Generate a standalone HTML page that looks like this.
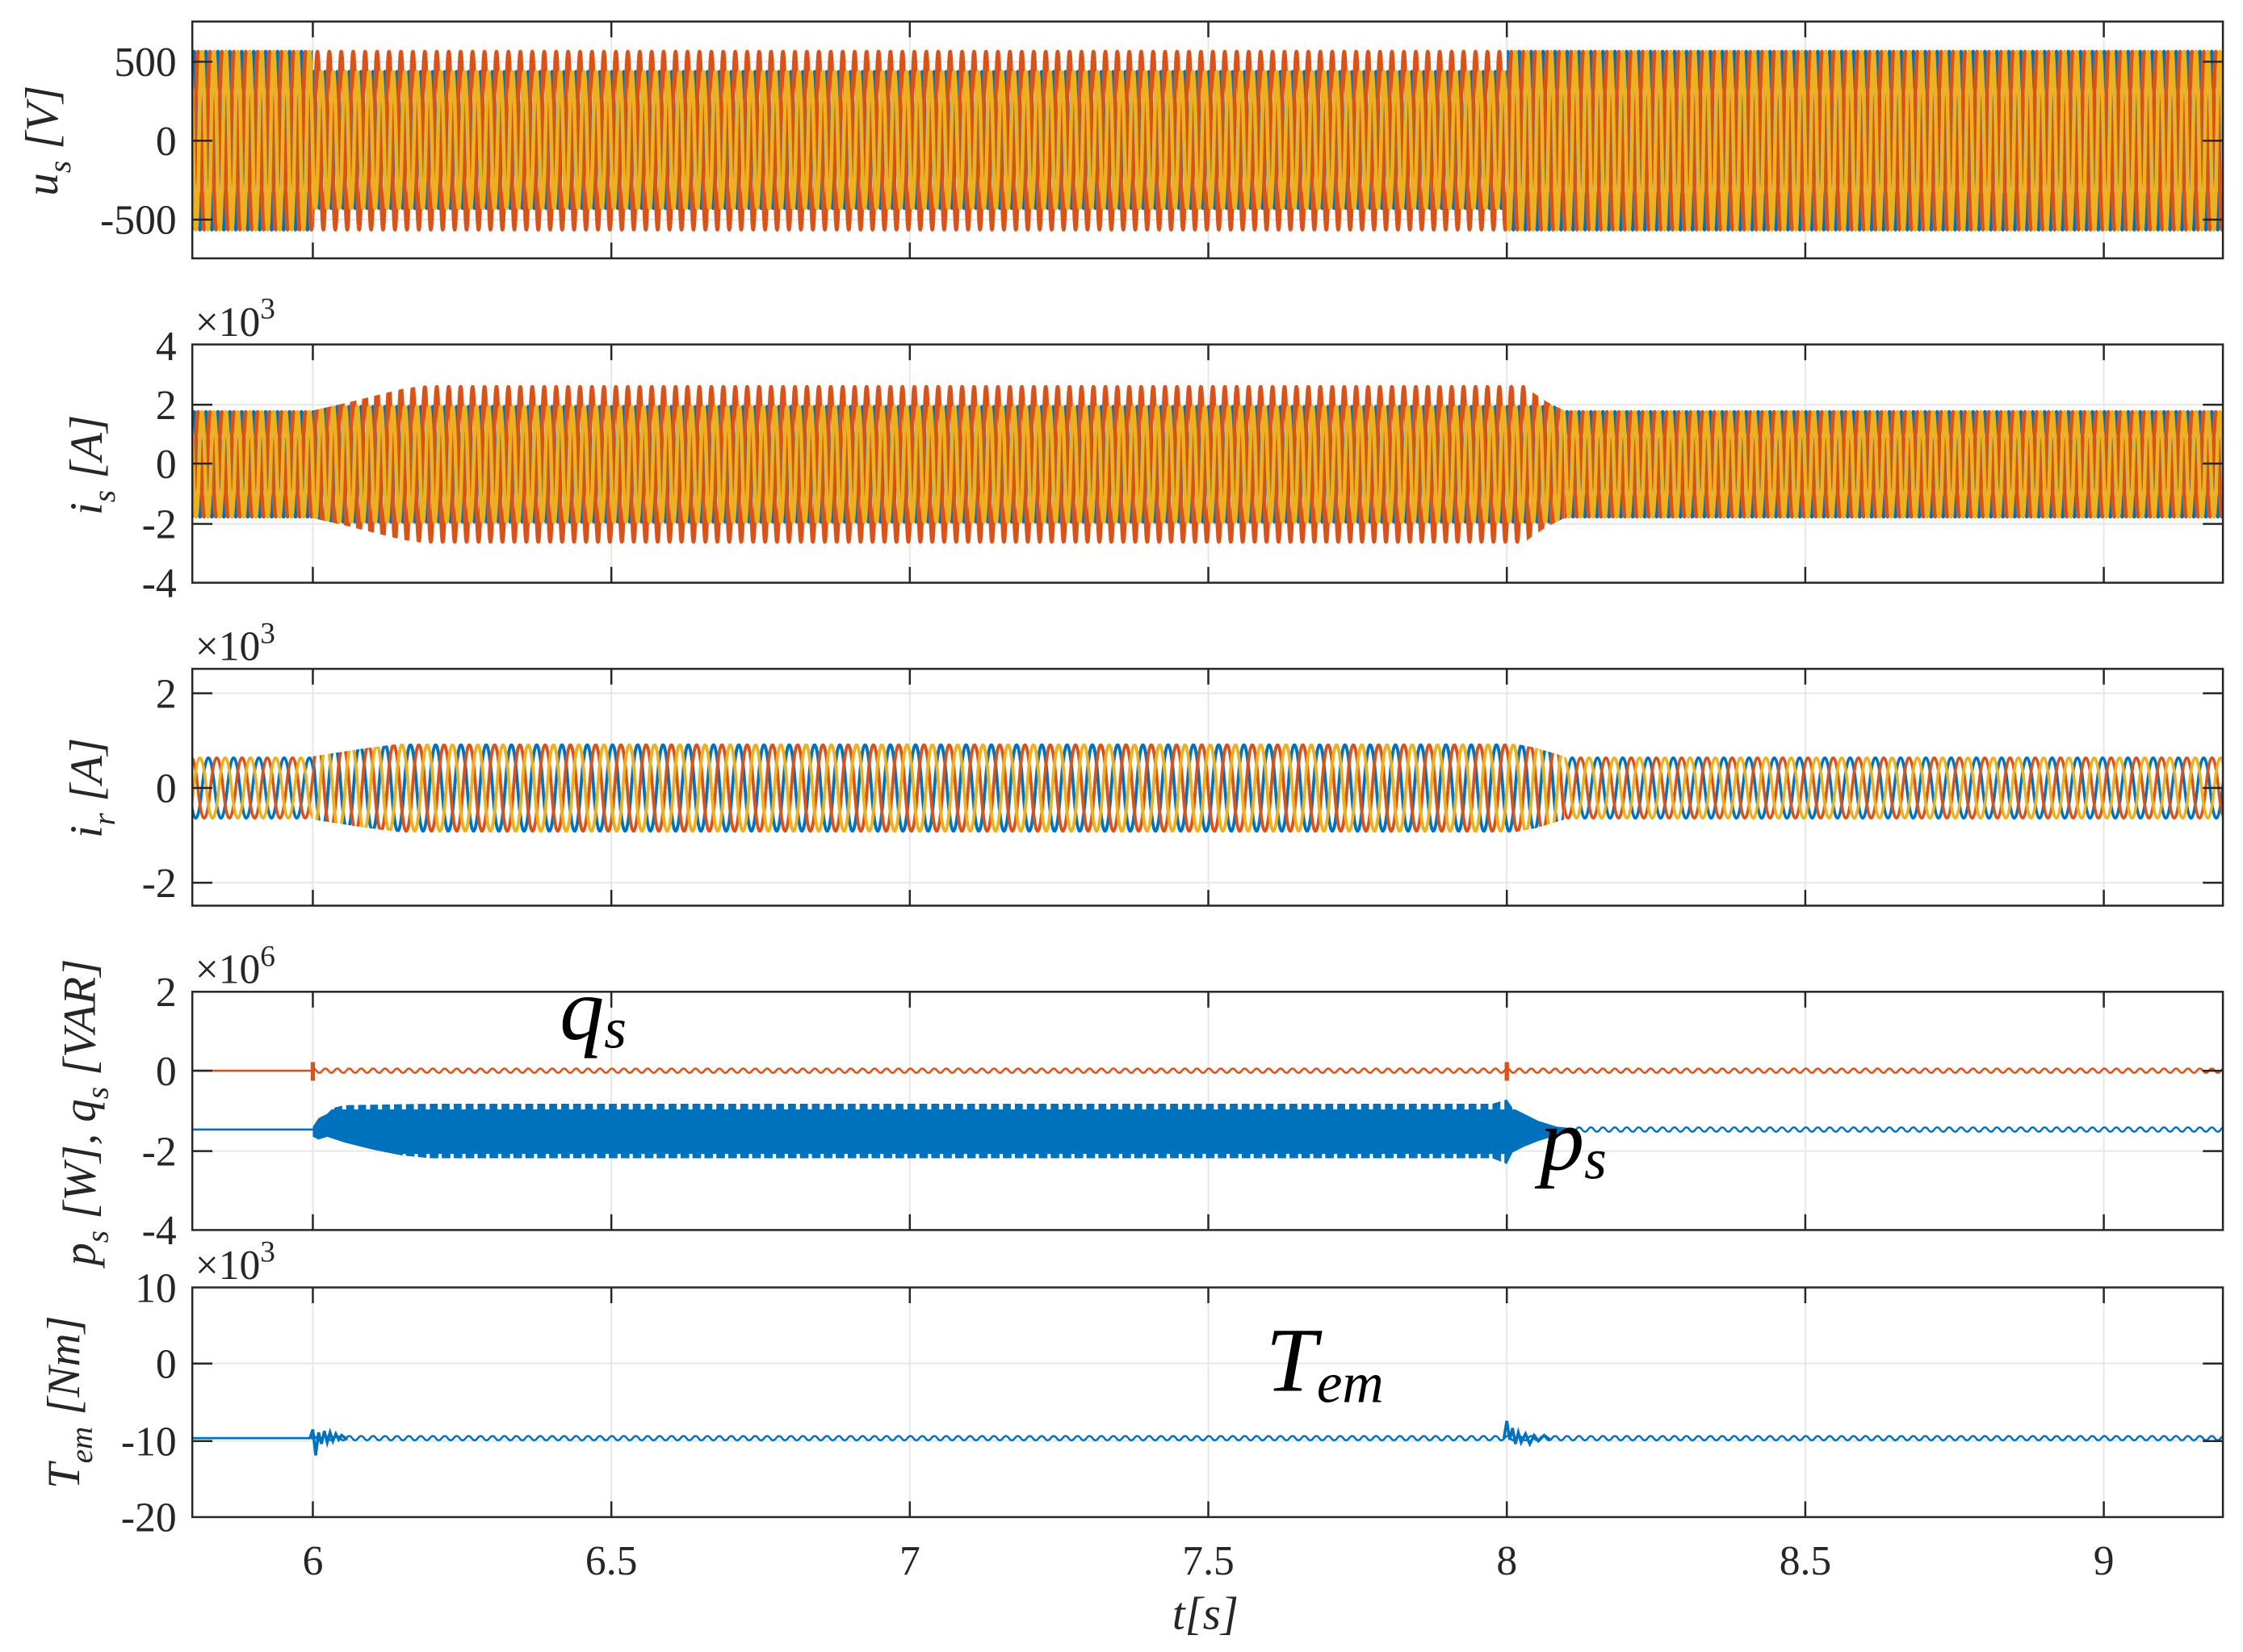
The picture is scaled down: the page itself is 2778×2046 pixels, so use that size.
<!DOCTYPE html>
<html><head><meta charset="utf-8"><style>
html,body{margin:0;padding:0;background:#fff}
svg{display:block}
.t{font-family:"Liberation Serif",serif;font-size:29px;fill:#262626}
.l{font-family:"Liberation Serif",serif;font-style:italic;font-size:32px;fill:#262626}
.g{stroke:#e8e8e8;stroke-width:1.2}
.ax{fill:none;stroke:#262626;stroke-width:1.4}
.tk{stroke:#262626;stroke-width:1.4}
</style></head><body>
<svg width="2778" height="2046" viewBox="0 0 1563 1151" preserveAspectRatio="none" xmlns="http://www.w3.org/2000/svg">
<defs>
<pattern id="p1f" patternUnits="userSpaceOnUse" x="0" y="0" width="8.32" height="1151">
<g fill="none" stroke-width="2.6">
<path stroke="#0072BD" d="M-8.32,98 Q-6.24,-26 -4.16,98 T0,98 T4.16,98 T8.32,98 T12.48,98 T16.64,98"/>
<path stroke="#D95319" d="M-5.55,98 Q-3.47,-26 -1.39,98 T2.77,98 T6.93,98 T11.09,98 T15.25,98 T19.41,98"/>
<path stroke="#EDB120" d="M-2.77,98 Q-0.69,-26 1.39,98 T5.55,98 T9.71,98 T13.87,98 T18.03,98 T22.19,98"/>
</g></pattern>
<pattern id="p1m" patternUnits="userSpaceOnUse" x="0" y="0" width="8.32" height="1151">
<g fill="none" stroke-width="2.6">
<path stroke="#0072BD" d="M-8.32,97.5 Q-6.24,2.5 -4.16,97.5 T0,97.5 T4.16,97.5 T8.32,97.5 T12.48,97.5 T16.64,97.5"/>
<path stroke="#D95319" d="M-5.55,98 Q-3.47,-26 -1.39,98 T2.77,98 T6.93,98 T11.09,98 T15.25,98 T19.41,98"/>
<path stroke="#EDB120" d="M-2.77,97.5 Q-0.69,2.5 1.39,97.5 T5.55,97.5 T9.71,97.5 T13.87,97.5 T18.03,97.5 T22.19,97.5"/>
</g></pattern>
<pattern id="p2a" patternUnits="userSpaceOnUse" x="0" y="0" width="8.32" height="1151">
<g fill="none" stroke-width="2.6">
<path stroke="#0072BD" d="M-8.32,323.5 Q-6.24,250.5 -4.16,323.5 T0,323.5 T4.16,323.5 T8.32,323.5 T12.48,323.5 T16.64,323.5"/>
<path stroke="#D95319" d="M-5.55,323.5 Q-3.47,250.5 -1.39,323.5 T2.77,323.5 T6.93,323.5 T11.09,323.5 T15.25,323.5 T19.41,323.5"/>
<path stroke="#EDB120" d="M-2.77,323.5 Q-0.69,250.5 1.39,323.5 T5.55,323.5 T9.71,323.5 T13.87,323.5 T18.03,323.5 T22.19,323.5"/>
</g></pattern>
<pattern id="p2m" patternUnits="userSpaceOnUse" x="0" y="0" width="8.32" height="1151">
<g fill="none" stroke-width="2.6">
<path stroke="#0072BD" d="M-8.32,323.5 Q-6.24,243.5 -4.16,323.5 T0,323.5 T4.16,323.5 T8.32,323.5 T12.48,323.5 T16.64,323.5"/>
<path stroke="#D95319" d="M-5.55,323.5 Q-3.47,215.5 -1.39,323.5 T2.77,323.5 T6.93,323.5 T11.09,323.5 T15.25,323.5 T19.41,323.5"/>
<path stroke="#EDB120" d="M-2.77,323.5 Q-0.69,243.5 1.39,323.5 T5.55,323.5 T9.71,323.5 T13.87,323.5 T18.03,323.5 T22.19,323.5"/>
</g></pattern>
<pattern id="p3a" patternUnits="userSpaceOnUse" x="0" y="0" width="17.6" height="1151">
<g fill="none" stroke-width="2">
<path stroke="#0072BD" d="M-17.6,549 Q-13.2,507 -8.8,549 T0,549 T8.8,549 T17.6,549 T26.4,549"/>
<path stroke="#D95319" d="M-11.73,549 Q-7.33,507 -2.93,549 T5.87,549 T14.67,549 T23.47,549 T32.27,549"/>
<path stroke="#EDB120" d="M-5.87,549 Q-1.47,507 2.93,549 T11.73,549 T20.53,549 T29.33,549 T38.13,549"/>
</g></pattern>
<pattern id="p3m" patternUnits="userSpaceOnUse" x="0" y="0" width="17.6" height="1151">
<g fill="none" stroke-width="2.2">
<path stroke="#0072BD" d="M-17.6,549 Q-13.2,489 -8.8,549 T0,549 T8.8,549 T17.6,549 T26.4,549"/>
<path stroke="#D95319" d="M-11.73,549 Q-7.33,489 -2.93,549 T5.87,549 T14.67,549 T23.47,549 T32.27,549"/>
<path stroke="#EDB120" d="M-5.87,549 Q-1.47,489 2.93,549 T11.73,549 T20.53,549 T29.33,549 T38.13,549"/>
</g></pattern>
<pattern id="rq" patternUnits="userSpaceOnUse" x="0" y="0" width="8.32" height="1151">
<path fill="none" stroke="#D95319" stroke-width="1.4" d="M-8.32,746 Q-6.24,743 -4.16,746 T0,746 T4.16,746 T8.32,746 T12.48,746"/></pattern>
<pattern id="rp" patternUnits="userSpaceOnUse" x="0" y="0" width="8.32" height="1151">
<path fill="none" stroke="#0072BD" stroke-width="1.4" d="M-8.32,787 Q-6.24,784 -4.16,787 T0,787 T4.16,787 T8.32,787 T12.48,787"/></pattern>
<pattern id="rt" patternUnits="userSpaceOnUse" x="0" y="0" width="8.32" height="1151">
<path fill="none" stroke="#0072BD" stroke-width="1.4" d="M-8.32,1002 Q-6.24,999 -4.16,1002 T0,1002 T4.16,1002 T8.32,1002 T12.48,1002"/></pattern>
<pattern id="pst" patternUnits="userSpaceOnUse" x="0" y="0" width="8.32" height="1151">
<rect x="0" y="0" width="8.32" height="1151" fill="#0072BD"/>
<rect x="5.5" y="760" width="2.8" height="13" fill="#fff"/>
<rect x="6" y="804" width="2.3" height="10" fill="#fff"/>
</pattern>
<clipPath id="c1"><rect x="134" y="15" width="1415" height="165"/></clipPath>
<clipPath id="c2"><rect x="134" y="240" width="1415" height="166"/></clipPath>
<clipPath id="c3"><rect x="134" y="466" width="1415" height="165"/></clipPath>
<clipPath id="env2"><polygon points="218,286 240,281 260,276 280,271 300,268 330,266 1048,266 1056,262 1066,272 1078,280 1090,286 1090,361 1078,367 1066,375 1056,385 1048,381 330,381 300,379 280,376 260,371 240,366 218,361"/></clipPath>
<clipPath id="env3"><polygon points="218,527 250,522 280,518 1050,517 1070,521 1090,527 1090,571 1070,577 1050,581 280,580 250,576 218,571"/></clipPath>
</defs>

<g class="g">
<path d="M218,15V180M426,15V180M634,15V180M842,15V180M1050,15V180M1258,15V180M1466,15V180M134,43H1549M134,98H1549M134,153H1549"/>
<path d="M218,240V406M426,240V406M634,240V406M842,240V406M1050,240V406M1258,240V406M1466,240V406M134,282H1549M134,323H1549M134,365H1549"/>
<path d="M218,466V631M426,466V631M634,466V631M842,466V631M1050,466V631M1258,466V631M1466,466V631M134,483H1549M134,549H1549M134,615H1549"/>
<path d="M218,691V857M426,691V857M634,691V857M842,691V857M1050,691V857M1258,691V857M1466,691V857M134,746H1549M134,802H1549"/>
<path d="M218,897V1057M426,897V1057M634,897V1057M842,897V1057M1050,897V1057M1258,897V1057M1466,897V1057M134,950H1549M134,1004H1549"/>
</g>

<g clip-path="url(#c1)">
<rect x="134" y="15" width="84" height="165" fill="url(#p1f)"/>
<rect x="218" y="15" width="832" height="165" fill="url(#p1m)"/>
<rect x="1050" y="15" width="499" height="165" fill="url(#p1f)"/>
</g>
<g clip-path="url(#c2)">
<rect x="134" y="240" width="84" height="166" fill="url(#p2a)"/>
<rect x="1090" y="240" width="459" height="166" fill="url(#p2a)"/>
<rect x="218" y="240" width="872" height="166" fill="url(#p2m)" clip-path="url(#env2)"/>
</g>
<g clip-path="url(#c3)">
<rect x="134" y="466" width="84" height="165" fill="url(#p3a)"/>
<rect x="1090" y="466" width="459" height="165" fill="url(#p3a)"/>
<rect x="218" y="466" width="872" height="165" fill="url(#p3m)" clip-path="url(#env3)"/>
</g>
<path d="M134,746H218" stroke="#D95319" stroke-width="1.5"/>
<rect x="218" y="740" width="1331" height="12" fill="url(#rq)"/>
<path d="M218,740V753M1050,740V753" stroke="#D95319" stroke-width="3"/>
<path d="M134,787H218" stroke="#0072BD" stroke-width="1.5"/>
<polygon fill="url(#pst)" points="218,785 222,779 228,776 232,772 240,770 300,769 1040,769 1050,766 1054,772 1062,776 1072,781 1085,785 1095,786 1095,789 1085,791 1072,795 1062,799 1054,803 1050,811 1040,807 300,807 280,805 260,801 240,796 228,792 222,794 218,792"/>
<rect x="1094" y="781" width="455" height="12" fill="url(#rp)"/>
<path d="M134,1002H218" stroke="#0072BD" stroke-width="1.5"/>
<rect x="218" y="996" width="1331" height="12" fill="url(#rt)"/>
<path fill="none" stroke="#0072BD" stroke-width="2" d="M216,1002 L218,996 L220,1014 L222,998 L224,1006 L226,997 L228,1005 L230,998 L232,1004 L234,999 L236,1003 L238,1000 L242,1003"/>
<path fill="none" stroke="#0072BD" stroke-width="2" d="M1048,1002 L1050,990 L1052,1003 L1054,995 L1056,1006 L1058,998 L1060,1005 L1063,999 L1066,1006 L1069,1000 L1072,1004 L1076,1000 L1080,1003"/>

<g class="ax">
<rect x="134" y="15" width="1415" height="165"/>
<rect x="134" y="240" width="1415" height="166"/>
<rect x="134" y="466" width="1415" height="165"/>
<rect x="134" y="691" width="1415" height="166"/>
<rect x="134" y="897" width="1415" height="160"/>
</g>
<g class="tk">
<path d="M218,15v11M426,15v11M634,15v11M842,15v11M1050,15v11M1258,15v11M1466,15v11M218,180v-11M426,180v-11M634,180v-11M842,180v-11M1050,180v-11M1258,180v-11M1466,180v-11"/>
<path d="M218,240v11M426,240v11M634,240v11M842,240v11M1050,240v11M1258,240v11M1466,240v11M218,406v-11M426,406v-11M634,406v-11M842,406v-11M1050,406v-11M1258,406v-11M1466,406v-11"/>
<path d="M218,466v11M426,466v11M634,466v11M842,466v11M1050,466v11M1258,466v11M1466,466v11M218,631v-11M426,631v-11M634,631v-11M842,631v-11M1050,631v-11M1258,631v-11M1466,631v-11"/>
<path d="M218,691v11M426,691v11M634,691v11M842,691v11M1050,691v11M1258,691v11M1466,691v11M218,857v-11M426,857v-11M634,857v-11M842,857v-11M1050,857v-11M1258,857v-11M1466,857v-11"/>
<path d="M218,897v11M426,897v11M634,897v11M842,897v11M1050,897v11M1258,897v11M1466,897v11M218,1057v-11M426,1057v-11M634,1057v-11M842,1057v-11M1050,1057v-11M1258,1057v-11M1466,1057v-11"/>
<path d="M134,43h14M134,98h14M134,153h14M134,282h14M134,323h14M134,365h14M134,483h14M134,549h14M134,615h14M134,746h14M134,802h14M134,950h14M134,1004h14"/>
<path d="M1549,43h-14M1549,98h-14M1549,153h-14M1549,282h-14M1549,323h-14M1549,365h-14M1549,483h-14M1549,549h-14M1549,615h-14M1549,746h-14M1549,802h-14M1549,950h-14M1549,1004h-14"/>
</g>

<g class="t" text-anchor="end">
<text x="123" y="53">500</text><text x="123" y="108">0</text><text x="123" y="163">-500</text>
<text x="123" y="251">4</text><text x="123" y="292">2</text><text x="123" y="333">0</text><text x="123" y="375">-2</text><text x="123" y="416">-4</text>
<text x="123" y="493">2</text><text x="123" y="559">0</text><text x="123" y="625">-2</text>
<text x="123" y="701">2</text><text x="123" y="756">0</text><text x="123" y="812">-2</text><text x="123" y="867">-4</text>
<text x="123" y="907">10</text><text x="123" y="960">0</text><text x="123" y="1014">-10</text><text x="123" y="1067">-20</text>
</g>
<g class="t" text-anchor="middle">
<text x="218" y="1097">6</text><text x="426" y="1097">6.5</text><text x="634" y="1097">7</text><text x="842" y="1097">7.5</text><text x="1050" y="1097">8</text><text x="1258" y="1097">8.5</text><text x="1466" y="1097">9</text>
</g>
<text class="l" x="840" y="1135" text-anchor="middle">t[s]</text>

<g class="t">
<text x="136" y="234">×10<tspan font-size="21" dy="-12">3</tspan></text>
<text x="136" y="460">×10<tspan font-size="21" dy="-12">3</tspan></text>
<text x="136" y="685">×10<tspan font-size="21" dy="-12">6</tspan></text>
<text x="136" y="891">×10<tspan font-size="21" dy="-12">3</tspan></text>
</g>

<text class="l" transform="translate(40,98) rotate(-90)" text-anchor="middle">u<tspan font-size="22" dy="9">s</tspan><tspan dy="-9"> [V]</tspan></text>
<text class="l" transform="translate(71,324) rotate(-90)" text-anchor="middle">i<tspan font-size="22" dy="9">s</tspan><tspan dy="-9"> [A]</tspan></text>
<text class="l" transform="translate(71,549) rotate(-90)" text-anchor="middle">i<tspan font-size="22" dy="9">r</tspan><tspan dy="-9"> [A]</tspan></text>
<text class="l" transform="translate(66,775) rotate(-90)" text-anchor="middle">p<tspan font-size="22" dy="9">s</tspan><tspan dy="-9"> [W], q</tspan><tspan font-size="22" dy="9">s</tspan><tspan dy="-9"> [VAR]</tspan></text>
<text class="l" transform="translate(55,977) rotate(-90)" text-anchor="middle">T<tspan font-size="22" dy="9">em</tspan><tspan dy="-9"> [Nm]</tspan></text>

<g font-family="Liberation Serif, serif" font-style="italic" fill="#000">
<text x="390" y="724" font-size="62">q<tspan font-size="40" dy="6">s</tspan></text>
<text x="1073" y="815" font-size="62">p<tspan font-size="40" dy="6">s</tspan></text>
<text x="882" y="969" font-size="64">T<tspan font-size="40" dy="8">em</tspan></text>
</g>
</svg>
</body></html>
